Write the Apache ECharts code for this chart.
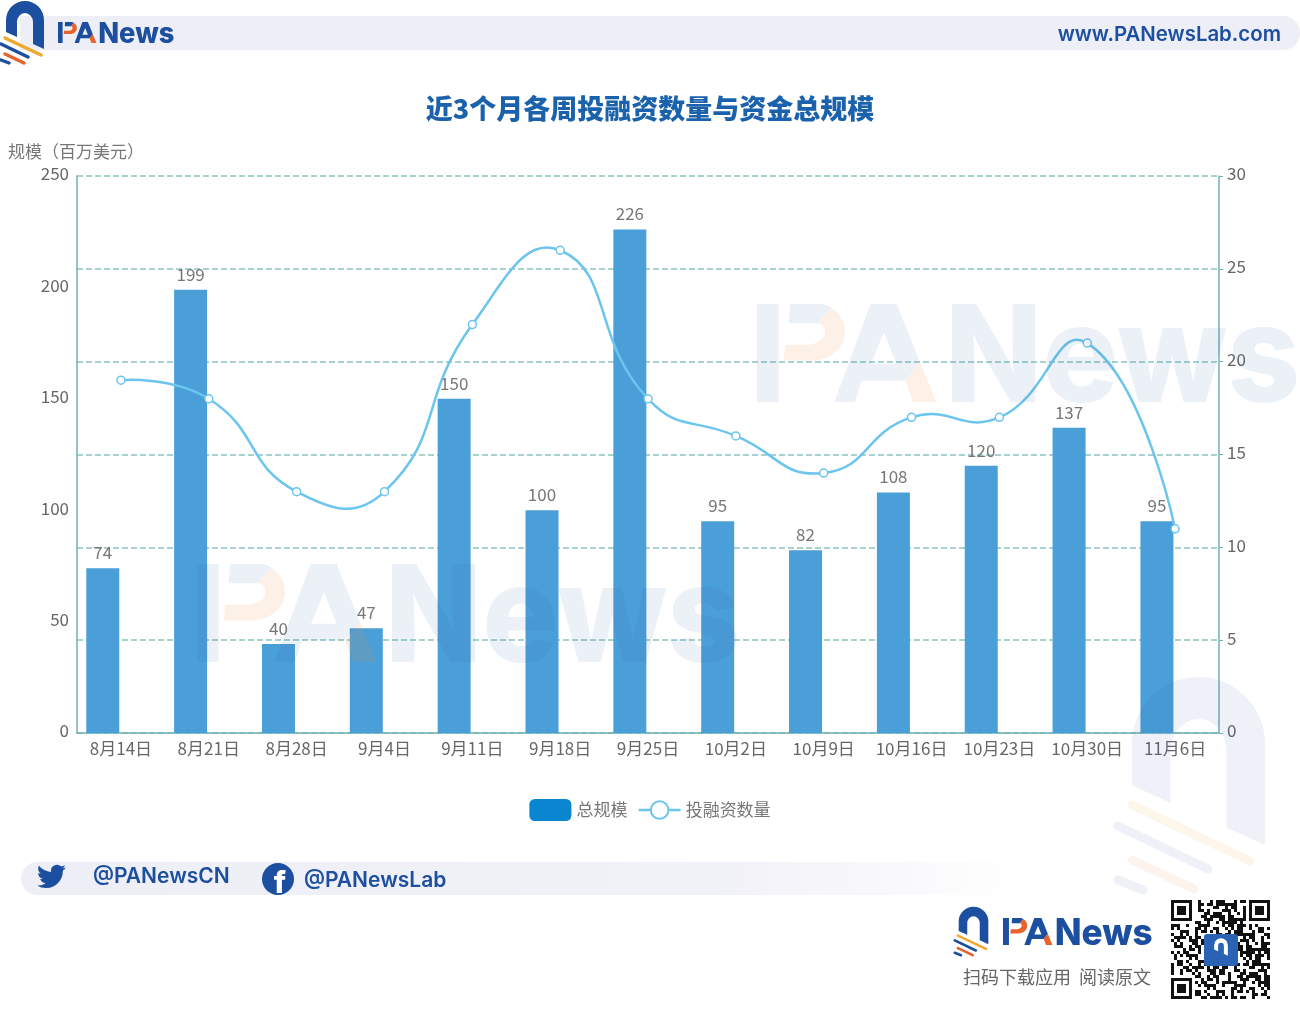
<!DOCTYPE html>
<html>
<head>
<meta charset="utf-8">
<style>html,body{margin:0;padding:0;background:#fff}#chart{width:1300px;height:1014px}</style>
<script src="https://cdn.jsdelivr.net/npm/echarts@6/dist/echarts.min.js"></script>
</head>
<body>
<div id="chart"></div>
<script>
var weeks = ['8月14日','8月21日','8月28日','9月4日','9月11日','9月18日','9月25日','10月2日','10月9日','10月16日','10月23日','10月30日','11月6日'];
var totalSize = [74,199,40,47,150,100,226,95,82,108,120,137,95];
var dealCount = [19,18,13,13,22,26,18,16,14,17,17,21,11];

var FONT = '"Noto Sans CJK SC","Noto Sans",sans-serif';
var LATIN = 'Inter,"Noto Sans",sans-serif';
var BLUE = '#1d4fa0';
var ORANGE = '#e8622c';
var LINE_COLOR = '#6cc5ee';
var ARCH = 'M6 32 L6 20 A19 19 0 0 1 44 20 L44 49 L33 44 L33 22 A8 9 0 0 0 17 22 L17 37 Z';
var TWITTER = 'M23.953 4.57a10 10 0 0 1-2.825.775 4.958 4.958 0 0 0 2.163-2.723c-.951.555-2.005.959-3.127 1.184a4.92 4.92 0 0 0-8.384 4.482C7.69 8.095 4.067 6.13 1.64 3.162a4.822 4.822 0 0 0-.666 2.475c0 1.71.87 3.213 2.188 4.096a4.904 4.904 0 0 1-2.228-.616v.06a4.923 4.923 0 0 0 3.946 4.827 4.996 4.996 0 0 1-2.212.085 4.936 4.936 0 0 0 4.604 3.417 9.867 9.867 0 0 1-6.102 2.105c-.39 0-.779-.023-1.17-.067a13.995 13.995 0 0 0 7.557 2.209c9.053 0 13.998-7.496 13.998-13.985 0-.21 0-.42-.015-.63A9.935 9.935 0 0 0 24 4.59z';
// the split P and the A of the wordmark, blue part and orange part
var PA_BLUE = 'M50 42 L115 42 L115 337 L50 337 Z M150 42 L240 42 C250 42 262 45 272 52 L232 100 L145 100 Z M392 42 L470 42 L540 215 L495 272 L365 272 L345 337 L283 337 Z M432 128 L393 222 L470 222 Z';
var PA_ORANGE = 'M272 52 C300 70 315 95 315 125 C315 175 270 212 215 212 L130 212 L135 165 L205 165 C240 160 255 145 255 125 C255 110 245 100 232 100 Z M540 215 L590 337 L520 337 L495 272 Z';

// the graphic component has no plain path type, register them as shapes
echarts.graphic.registerShape('archLogo', echarts.graphic.extendPath(ARCH, {}));
echarts.graphic.registerShape('twitterBird', echarts.graphic.extendPath(TWITTER, {}));
echarts.graphic.registerShape('paBlue', echarts.graphic.extendPath(PA_BLUE, {}));
echarts.graphic.registerShape('paOrange', echarts.graphic.extendPath(PA_ORANGE, {}));

// logo: arch plus the four slanted stripes
function logo(x, y, s) {
  var stripes = [[5,38,41,55,'#f0a92e',3.4],[1,44,28,57,BLUE,3.4],[5,54,24,63,ORANGE,3.4],[1,60,9,63,BLUE,3.4]];
  var kids = [{type:'archLogo', style:{fill:BLUE}}];
  stripes.forEach(function (p) {
    kids.push({type:'line', shape:{x1:p[0],y1:p[1],x2:p[2],y2:p[3]}, style:{stroke:p[4],lineWidth:p[5],lineCap:'round'}});
  });
  return {type:'group', x:x, y:y, scaleX:s, scaleY:s, silent:true, children:kids};
}

// wordmark, x and top are the corner of the capitals, capH their height
function word(x, top, capH, blue, orange, z) {
  var s = capH / 295;
  var size = capH / 0.727;
  return {type:'group', silent:true, z:z, children:[
    {type:'paBlue', z:z, x:x-50*s, y:top-42*s, scaleX:s, scaleY:s, style:{fill:blue}},
    {type:'paOrange', z:z, x:x-50*s, y:top-42*s, scaleX:s, scaleY:s, style:{fill:orange}},
    {type:'text', z:z, x:x+565*s, y:top+capH/2+0.06*size, scaleX:0.945, style:{text:'News', fill:blue, font:'800 '+size+'px '+LATIN, textVerticalAlign:'middle'}}
  ]};
}

// stand-in for the QR code, fixed module pattern
function qrCode(x, y, cell, n) {
  var kids = [];
  var seed = 7;
  function finder(i, j) {
    kids.push({type:'rect', shape:{x:x+i*cell,y:y+j*cell,width:7*cell,height:7*cell}, style:{fill:'#111'}});
    kids.push({type:'rect', shape:{x:x+(i+1)*cell,y:y+(j+1)*cell,width:5*cell,height:5*cell}, style:{fill:'#fff'}});
    kids.push({type:'rect', shape:{x:x+(i+2)*cell,y:y+(j+2)*cell,width:3*cell,height:3*cell}, style:{fill:'#111'}});
  }
  for (var j = 0; j < n; j++) {
    for (var i = 0; i < n; i++) {
      seed = (seed * 131 + 17) % 1009;
      if ((i < 8 && j < 8) || (i >= n-8 && j < 8) || (i < 8 && j >= n-8)) continue;
      if (seed % 2) kids.push({type:'rect', shape:{x:x+i*cell,y:y+j*cell,width:cell,height:cell}, style:{fill:'#111'}});
    }
  }
  finder(0,0); finder(n-7,0); finder(0,n-7);
  kids.push({type:'rect', shape:{x:x+33,y:y+34,width:34,height:32,r:3}, style:{fill:'#2a62b4'}});
  kids.push({type:'archLogo', x:x+41, y:y+38, scaleX:0.36, scaleY:0.36, style:{fill:'#fff'}});
  return {type:'group', silent:true, children:kids};
}

// the reference curve overshoots its points, which the line series smoothing clamps away,
// so the curve is drawn segment by segment from the same values
function renderCurve(params, api) {
  var i = params.dataIndex;
  if (i >= dealCount.length - 1) return null;
  function pt(k) { return api.coord([k, dealCount[k]]); }
  function handles(k) {
    var p = pt(k);
    if (k === 0 || k === dealCount.length - 1) return {before:p, after:p};
    var a = pt(k-1), b = pt(k+1);
    var d0 = Math.hypot(p[0]-a[0], p[1]-a[1]), d1 = Math.hypot(b[0]-p[0], b[1]-p[1]);
    var vx = (b[0]-a[0]) * 0.5, vy = (b[1]-a[1]) * 0.5;
    var r0 = d0 / (d0+d1), r1 = d1 / (d0+d1);
    return {before:[p[0]-vx*r0, p[1]-vy*r0], after:[p[0]+vx*r1, p[1]+vy*r1]};
  }
  var p0 = pt(i), p1 = pt(i+1), c0 = handles(i).after, c1 = handles(i+1).before;
  return {
    type: 'bezierCurve',
    z2: 10,
    shape: {x1:p0[0], y1:p0[1], x2:p1[0], y2:p1[1], cpx1:c0[0], cpy1:c0[1], cpx2:c1[0], cpy2:c1[1]},
    style: {stroke:LINE_COLOR, lineWidth:2.5, fill:'none'}
  };
}

var chart = echarts.init(document.getElementById('chart'), null, {renderer:'canvas'});
chart.setOption({
  animation: false,
  backgroundColor: '#fff',
  textStyle: {fontFamily: FONT},
  title: {
    text: '近3个月各周投融资数量与资金总规模',
    left: 'center', top: 90,
    textStyle: {color:'#1b62ad', fontSize:27, fontWeight:900, fontFamily:FONT}
  },
  legend: {
    top: 794, left: 'center',
    itemWidth: 42, itemHeight: 22, itemGap: 10,
    textStyle: {color:'#777', fontSize:17, fontFamily:FONT},
    data: [
      {name:'总规模', icon:'roundRect', itemStyle:{color:'#0a85d0'}},
      {name:'投融资数量', lineStyle:{color:LINE_COLOR, width:2.5, opacity:1}}
    ]
  },
  grid: {left:77, right:81, top:176, bottom:281, containLabel:false},
  xAxis: {
    type: 'category',
    data: weeks,
    axisTick: {show:false},
    axisLine: {lineStyle:{color:'#6fb0b4', width:1.5}},
    axisLabel: {color:'#666', fontSize:17, margin:7, interval:0, fontFamily:FONT}
  },
  yAxis: [
    {
      type: 'value', min:0, max:250, interval:50,
      name: '规模（百万美元）',
      nameLocation: 'end', nameGap: 16,
      nameTextStyle: {color:'#777', fontSize:17, align:'left', padding:[0,0,0,-69], fontFamily:FONT},
      axisLine: {show:true, lineStyle:{color:'#6fb0b4', width:1.5}},
      axisTick: {show:false},
      axisLabel: {color:'#666', fontSize:17, margin:8, verticalAlign:'bottom', lineHeight:4, fontFamily:FONT},
      splitLine: {show:false}
    },
    {
      type: 'value', min:0, max:30, interval:5,
      axisLine: {show:true, lineStyle:{color:'#6fb0b4', width:1.5}},
      axisTick: {show:true, length:4, lineStyle:{color:'#6fb0b4'}},
      axisLabel: {color:'#666', fontSize:17, margin:8, verticalAlign:'bottom', lineHeight:4, fontFamily:FONT},
      splitLine: {show:true, lineStyle:{color:'#8cc4c0', type:'dashed', width:1.5}}
    }
  ],
  series: [
    {
      name: '总规模', type: 'bar', yAxisIndex: 0,
      data: totalSize, barWidth: 33, barGap: '10%',
      itemStyle: {color:'#4a9fd8'},
      label: {show:true, position:'top', distance:7, color:'#777', fontSize:17, fontFamily:FONT}
    },
    // empty series, only keeps the bars left of the band centre
    {name:'占位', type:'bar', yAxisIndex:0, data:[], barWidth:33, barGap:'10%'},
    {
      name: '曲线', type: 'custom', yAxisIndex: 1, z: 5,
      data: dealCount.map(function (v, i) { return [i, v]; }),
      renderItem: renderCurve,
      silent: true
    },
    // markers and legend entry, its own line stays hidden
    {
      name: '投融资数量', type: 'line', yAxisIndex: 1, z: 6,
      data: dealCount,
      symbol: 'circle', symbolSize: 8,
      lineStyle: {color:LINE_COLOR, width:2.5, opacity:0},
      itemStyle: {color:'#fff', borderColor:LINE_COLOR, borderWidth:1.5}
    }
  ],
  graphic: [
    {type:'rect', silent:true, z:-1, shape:{x:20,y:16,width:1280,height:34,r:[0,17,17,0]}, style:{fill:'#eeeef6'}},
    logo(0,0,1),
    word(58,22,21,BLUE,ORANGE,1),
    {type:'text', x:1281, y:35, style:{text:'www.PANewsLab.com', fill:BLUE, font:'600 20.4px '+LATIN, textAlign:'right', textVerticalAlign:'middle'}},
    {type:'rect', silent:true, z:-1, shape:{x:21,y:862,width:1000,height:33,r:[17,0,0,17]}, style:{fill:new echarts.graphic.LinearGradient(0,0,1,0,[{offset:0,color:'#eeeef6'},{offset:0.7,color:'#f1f1f8'},{offset:1,color:'#ffffff'}])}},
    {type:'twitterBird', x:37, y:862, scaleX:1.2, scaleY:1.2, style:{fill:BLUE}},
    {type:'text', x:93, y:877, style:{text:'@PANewsCN', fill:BLUE, font:'600 21px '+LATIN, textVerticalAlign:'middle'}},
    {type:'circle', shape:{cx:278,cy:879,r:16}, style:{fill:BLUE}},
    {type:'text', x:280, y:884, style:{text:'f', fill:'#fff', font:'800 30px '+LATIN, textAlign:'center', textVerticalAlign:'middle'}},
    {type:'text', x:304, y:881, style:{text:'@PANewsLab', fill:BLUE, font:'600 21px '+LATIN, textVerticalAlign:'middle'}},
    word(757,304,98,'rgba(40,90,170,0.09)','rgba(240,140,60,0.12)',20),
    word(197,564,98,'rgba(40,90,170,0.09)','rgba(240,140,60,0.12)',20),
    {type:'archLogo', x:1111, y:673.5, scaleX:3.5, scaleY:3.5, silent:true, z:20, style:{fill:'rgba(40,90,170,0.08)'}},
    {type:'line', silent:true, z:20, shape:{x1:1132,y1:805,x2:1250,y2:861}, style:{stroke:'rgba(240,170,50,0.1)',lineWidth:9,lineCap:'round'}},
    {type:'line', silent:true, z:20, shape:{x1:1118,y1:826,x2:1208,y2:869}, style:{stroke:'rgba(40,90,170,0.08)',lineWidth:9,lineCap:'round'}},
    {type:'line', silent:true, z:20, shape:{x1:1132,y1:860,x2:1194,y2:889}, style:{stroke:'rgba(232,98,44,0.08)',lineWidth:9,lineCap:'round'}},
    {type:'line', silent:true, z:20, shape:{x1:1118,y1:880,x2:1143,y2:890}, style:{stroke:'rgba(40,90,170,0.08)',lineWidth:9,lineCap:'round'}},
    logo(954,906,0.78),
    word(1003,918,27,BLUE,ORANGE,1),
    {type:'text', x:963, y:977, style:{text:'扫码下载应用  阅读原文', fill:'#666', font:'18px '+FONT, textVerticalAlign:'middle'}},
    qrCode(1171,900,3,33)
  ]
});
</script>
</body>
</html>
